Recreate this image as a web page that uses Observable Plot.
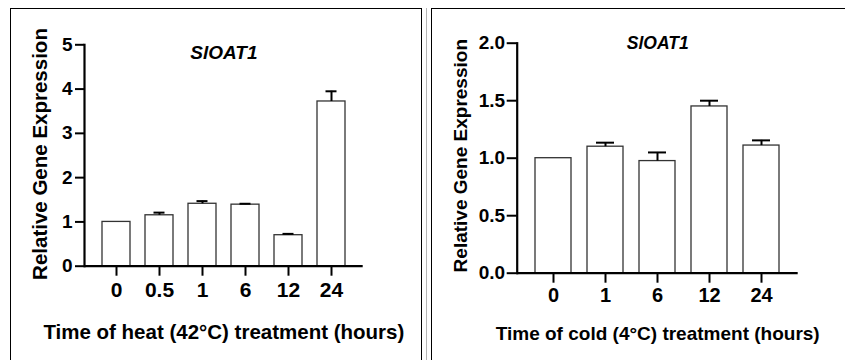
<!DOCTYPE html>
<html>
<head>
<meta charset="utf-8">
<script src="https://cdn.jsdelivr.net/npm/d3@7"></script>
<script src="https://cdn.jsdelivr.net/npm/@observablehq/plot@0.6"></script>
<style>
  html, body { margin: 0; padding: 0; background: #fff; }
  body { width: 845px; height: 360px; overflow: hidden; position: relative; }
  .wrap { position: absolute; top: 0; }
  .wrap svg { display: block; max-width: none; overflow: visible; }
  .border { position: absolute; pointer-events: none; box-sizing: border-box; }
</style>
</head>
<body>
<div id="left" class="wrap" style="left:0px;width:420px;height:360px;"></div>
<div id="right" class="wrap" style="left:420px;width:425px;height:360px;"></div>
<div class="border" style="left:10px;top:8px;width:412px;height:400px;border-left:1.5px solid #000;border-top:1.5px solid #000;border-right:1.5px solid #000;"></div>
<div class="border" style="left:426px;top:8px;width:1px;height:400px;background:#b5b5b5;"></div>
<div class="border" style="left:431px;top:8px;width:420px;height:400px;border-left:1.5px solid #000;border-top:1.5px solid #000;"></div>
<script>
// ---- data ----
const geneName = "SlOAT1";
const heatTimes = ["0", "0.5", "1", "6", "12", "24"];
const heatMeans = [1.0, 1.15, 1.41, 1.39, 0.70, 3.72];
const heatErrors = [0, 0.06, 0.06, 0.02, 0.03, 0.23];
const heatTicks = [0, 1, 2, 3, 4, 5];
const heatTitle = "Time of heat (42°C) treatment (hours)";

const coldTimes = ["0", "1", "6", "12", "24"];
const coldMeans = [1.0, 1.10, 0.975, 1.45, 1.11];
const coldErrors = [0, 0.035, 0.075, 0.05, 0.045];
const coldTicks = [0, 0.5, 1.0, 1.5, 2.0];
const coldTitle = "Time of cold (4°C) treatment (hours)";

const yTitle = "Relative Gene Expression";
const FONT = "'Liberation Sans', Arial, Helvetica, sans-serif";

function panel(cfg) {
  const rows = cfg.times.map((t, i) => ({t, m: cfg.means[i], e: cfg.errors[i]}));
  const errRows = rows.filter(d => d.e > 0);
  return Plot.plot({
    width: cfg.width,
    height: 360,
    marginLeft: cfg.ml,
    marginRight: cfg.mr,
    marginTop: cfg.mt,
    marginBottom: cfg.mb,
    style: {fontFamily: FONT, fontWeight: "bold", color: "#000", background: "transparent", overflow: "visible"},
    x: {type: "band", domain: cfg.times, paddingInner: cfg.pi, paddingOuter: cfg.po, align: 0.5},
    y: {domain: cfg.yDomain},
    marks: [
      Plot.barY(rows, {x: "t", y: "m", fill: "#fff", stroke: "#333", strokeWidth: 1.3}),
      Plot.ruleX(errRows, {x: "t", y1: "m", y2: d => d.m + d.e, stroke: "#000", strokeWidth: 2}),
      Plot.tickY(errRows, {x: "t", y: d => d.m + d.e, stroke: "#000", strokeWidth: 2, insetLeft: cfg.capInset, insetRight: cfg.capInset}),
      Plot.ruleY([0], {stroke: "#000", strokeWidth: 2.2}),
      Plot.frame({anchor: "left", stroke: "#000", strokeWidth: 2.2}),
      Plot.axisY({ticks: cfg.yTicks, tickFormat: cfg.yFormat, tickSize: cfg.yTickSize, tickPadding: cfg.yTickPad, strokeWidth: 2, fontSize: cfg.yTickFont, fontWeight: "bold", label: null}),
      Plot.axisX({tickSize: 10, tickPadding: cfg.xTickPad, strokeWidth: 2, fontSize: cfg.xTickFont, fontWeight: "bold", label: null}),
      Plot.text([geneName], {frameAnchor: "top", dy: cfg.titleDy, fontSize: cfg.titleFont, fontStyle: "italic", fontWeight: "bold", lineAnchor: "middle"}),
      Plot.text([cfg.xTitle], {frameAnchor: "bottom", dy: cfg.xTitleDy, fontSize: cfg.labelFont, fontWeight: "bold", lineAnchor: "middle"}),
      Plot.text([yTitle], {frameAnchor: "left", textAnchor: "middle", dx: cfg.yTitleDx, dy: cfg.yTitleDy, rotate: -90, fontSize: cfg.labelFont, fontWeight: "bold", lineAnchor: "middle"})
    ]
  });
}

document.getElementById("left").append(panel({
  times: heatTimes, means: heatMeans, errors: heatErrors,
  width: 420, ml: 84, mr: 57.3, mt: 44.3, mb: 94.3,
  pi: 0.34, po: 0.34, yDomain: [0, 5], yTicks: heatTicks, yFormat: d3.format("d"),
  yTickSize: 9, yTickPad: 3, yTickFont: 19, xTickPad: 6, xTickFont: 21,
  capInset: 8.5, titleDy: 8.4, titleFont: 19, xTitleDy: 66, labelFont: 20.5,
  yTitleDx: -44, yTitleDy: -1.5, xTitle: heatTitle
}));

document.getElementById("right").append(panel({
  times: coldTimes, means: coldMeans, errors: coldErrors,
  width: 425, ml: 96.7, mr: 47.3, mt: 42.7, mb: 87.3,
  pi: 0.31, po: 0.336, yDomain: [0, 2], yTicks: coldTicks, yFormat: d3.format(".1f"),
  yTickSize: 10, yTickPad: 2, yTickFont: 19, xTickPad: 5, xTickFont: 20,
  capInset: 9, titleDy: 0.6, titleFont: 17.5, xTitleDy: 60.3, labelFont: 19,
  yTitleDx: -56, yTitleDy: -2.5, xTitle: coldTitle
}));
</script>
</body>
</html>
